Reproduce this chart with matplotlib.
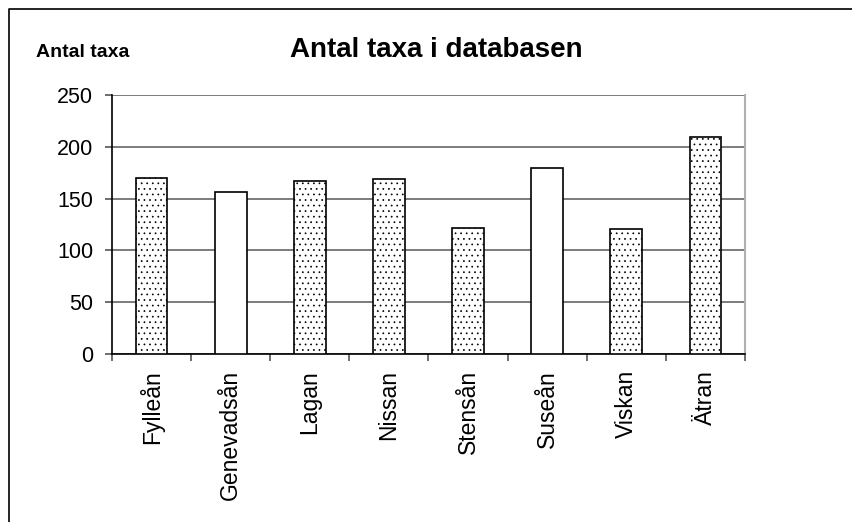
import numpy as np
import matplotlib
matplotlib.use("Agg")
import matplotlib.pyplot as plt
from matplotlib.lines import Line2D

plt.rcParams['font.family'] = ['Liberation Sans', 'DejaVu Sans']
plt.rcParams['hatch.color'] = '#666666'
plt.rcParams['hatch.linewidth'] = 0.5

# data
rivers = ["Fylleån", "Genevadsån", "Lagan", "Nissan", "Stensån", "Suseån", "Viskan", "Ätran"]
taxa = [170, 156, 167, 169, 122, 180, 121, 209]
dotted = [True, False, True, True, True, False, True, True]
yticks = [0, 50, 100, 150, 200, 250]

fig = plt.figure(figsize=(8.53, 5.22), dpi=100)
ax = fig.add_axes([112 / 853, 1 - 354 / 522, 633 / 853, 259 / 522])

x = np.arange(len(rivers))
for xi, val, dot in zip(x, taxa, dotted):
    ax.bar(xi, val, width=0.4, color="white", edgecolor="black",
           linewidth=1.2, hatch="..." if dot else None, zorder=3)

ax.set_xlim(-0.5, len(rivers) - 0.5)
ax.set_ylim(0, 250)
ax.set_yticks(yticks)
ax.yaxis.grid(True, color="#666666", linewidth=1.2, zorder=0)
ax.set_axisbelow(True)

# ticks at category borders, labels in the middle
ax.set_xticks(np.arange(-0.5, len(rivers)))
ax.set_xticklabels([])
ax.set_xticks(x, minor=True)
ax.set_xticklabels(rivers, minor=True, rotation=90, fontsize=16.5, va="top")
ax.tick_params(axis="x", which="major", length=5, color="#555555", width=1.2)
ax.tick_params(axis="x", which="minor", length=0, pad=11.5)
ax.tick_params(axis="y", length=5, color="#555555", width=1.2, pad=8.5, labelsize=15.5)

ax.spines["top"].set_visible(False)
ax.spines["right"].set_color("#b0b0b0")
ax.spines["right"].set_linewidth(1.5)
ax.spines["left"].set_linewidth(1.2)
ax.spines["bottom"].set_linewidth(1.2)

fig.text(436 / 853, 1 - 57 / 522, "Antal taxa i databasen", ha="center",
         va="baseline", fontsize=20, fontweight="bold")
fig.text(83 / 853, 1 - 57 / 522, "Antal taxa", ha="center", va="baseline",
         fontsize=14, fontweight="bold")

# outer chart frame (cut off at right and bottom)
fig.add_artist(Line2D([8.5 / 853, 8.5 / 853, 1.0], [0.0, 1 - 8.5 / 522, 1 - 8.5 / 522],
                      transform=fig.transFigure, color="black", linewidth=1.2))

fig.savefig("out.png", dpi=100)
